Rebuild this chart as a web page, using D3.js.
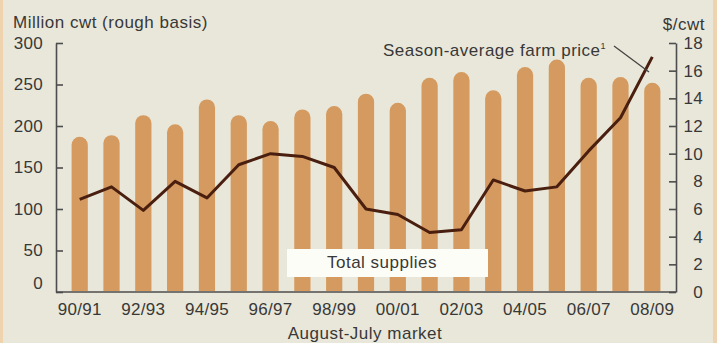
<!DOCTYPE html>
<html>
<head>
<meta charset="utf-8">
<script src="https://cdn.jsdelivr.net/npm/d3@7"></script>
<style>
	body { margin: 0; background: #e9e7d9; }
	svg { display: block; font-family: "Liberation Sans", Arial, sans-serif; }
	.axis text { font-size: 17px; fill: #383838; letter-spacing: 0.3px; }
	.axis path, .axis line { stroke: #4d4d4d; stroke-width: 1.6; }
	.lbl { font-size: 17px; fill: #383838; letter-spacing: 0.5px; }
</style>
</head>
<body>
<svg></svg>
<script>
	var years = ["90/91", "91/92", "92/93", "93/94", "94/95", "95/96", "96/97", "97/98", "98/99", "99/00",
		"00/01", "01/02", "02/03", "03/04", "04/05", "05/06", "06/07", "07/08", "08/09"];
	var supplies = [187, 189, 213, 202, 232, 213, 206, 220, 224, 239, 228, 258, 265, 243, 271, 280, 258, 259, 252];
	var price = [6.7, 7.6, 5.9, 8.0, 6.8, 9.2, 10.0, 9.8, 9.0, 6.0, 5.6, 4.3, 4.5, 8.1, 7.3, 7.6, 10.2, 12.6, 17.0];
	var leftTicks = [0, 50, 100, 150, 200, 250, 300];
	var rightTicks = [0, 2, 4, 6, 8, 10, 12, 14, 16, 18];
	var xLabels = ["90/91", "92/93", "94/95", "96/97", "98/99", "00/01", "02/03", "04/05", "06/07", "08/09"];

	var width = 717, height = 343;
	var m = { left: 56, right: 41, top: 43, bottom: 51 };

	var svg = d3.select("svg").attr("width", width).attr("height", height);

	svg.append("rect").attr("width", width).attr("height", height).attr("fill", "#e9e7d9");
	svg.append("rect").attr("width", 3).attr("height", height).attr("fill", "#efd3ae");
	svg.append("rect").attr("x", width - 4).attr("width", 4).attr("height", height).attr("fill", "#efd3ae");

	var x = d3.scaleBand()
		.domain(years)
		.range([m.left, width - m.right])
		.padding(0.49);
	var yL = d3.scaleLinear().domain([0, 300]).range([height - m.bottom, m.top]);
	var yR = d3.scaleLinear().domain([0, 18]).range([height - m.bottom, m.top]);

	// bars with rounded tops
	var w = x.bandwidth(), r = w / 2;
	svg.selectAll(".bar")
		.data(supplies)
		.enter()
		.append("path")
		.attr("class", "bar")
		.attr("fill", "#d49a5f")
		.attr("d", (d, i) => {
			var x0 = x(years[i]), y0 = yL(0) - 1, yt = yL(d);
			return "M" + x0 + "," + y0 + "L" + x0 + "," + (yt + r) +
				"A" + r + "," + r + " 0 0 1 " + (x0 + w) + "," + (yt + r) +
				"L" + (x0 + w) + "," + y0 + "Z";
		});

	// label box
	svg.append("rect")
		.attr("x", 287).attr("y", 249).attr("width", 201).attr("height", 28)
		.attr("fill", "#fdfdf7");
	svg.append("text").attr("class", "lbl")
		.attr("x", 382).attr("y", 268).attr("text-anchor", "middle")
		.text("Total supplies");

	// axes
	svg.append("g")
		.attr("class", "axis")
		.attr("transform", "translate(" + m.left + ",0)")
		.call(d3.axisLeft(yL).tickValues(leftTicks).tickSizeInner(-7).tickSizeOuter(0).tickPadding(13))
		.call(g => g.selectAll(".tick text").filter(d => d === 0).attr("transform", "translate(0,-9)"));

	svg.append("g")
		.attr("class", "axis")
		.attr("transform", "translate(" + (width - m.right) + ",0)")
		.call(d3.axisRight(yR).tickValues(rightTicks).tickSizeInner(-7).tickSizeOuter(0).tickPadding(27))
		.call(g => g.selectAll(".tick text").attr("text-anchor", "end"));

	svg.append("g")
		.attr("class", "axis")
		.attr("transform", "translate(0," + yL(0) + ")")
		.call(d3.axisBottom(x).tickValues(xLabels).tickSize(0).tickPadding(11))
		.call(g => g.select(".domain").attr("d", "M" + m.left + ",0H" + (width - m.right)));

	// price line
	var line = d3.line()
		.x((d, i) => x(years[i]) + w / 2)
		.y(d => yR(d));
	svg.append("path")
		.datum(price)
		.attr("fill", "none")
		.attr("stroke", "#4a1f0f")
		.attr("stroke-width", 3)
		.attr("stroke-linejoin", "round")
		.attr("d", line);

	// titles
	svg.append("text").attr("class", "lbl").attr("x", 13).attr("y", 28).text("Million cwt (rough basis)");
	svg.append("text").attr("class", "lbl").attr("x", 705).attr("y", 30).attr("text-anchor", "end").text("$/cwt");
	svg.append("text").attr("class", "lbl").attr("x", 365).attr("y", 339).attr("text-anchor", "middle").text("August-July market");

	var ann = svg.append("text").attr("class", "lbl").attr("x", 383).attr("y", 56);
	ann.append("tspan").text("Season-average farm price");
	ann.append("tspan").attr("font-size", "9px").attr("dy", "-7").text("1");
	svg.append("line")
		.attr("x1", 614).attr("y1", 46).attr("x2", 649).attr("y2", 72)
		.attr("stroke", "#444").attr("stroke-width", 1.3);
</script>
</body>
</html>
